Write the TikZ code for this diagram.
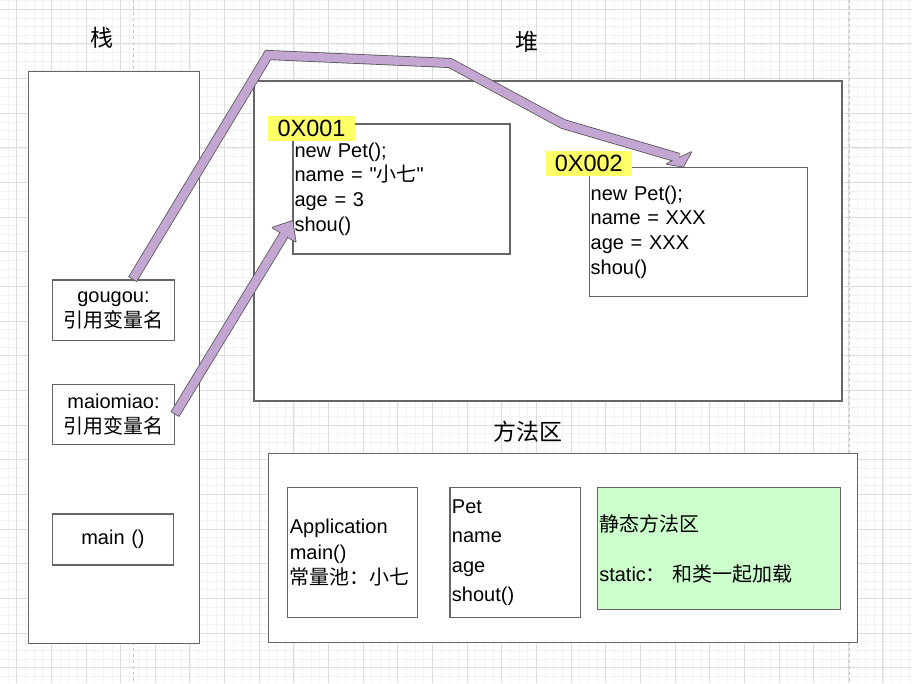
\documentclass[tikz,border=0pt]{standalone}
\usepackage{fontspec}
\setmainfont{Liberation Sans}
\newfontfamily\cjk{Noto Sans CJK SC}
\newfontfamily\plainsans{Liberation Sans}
\usetikzlibrary{calc}

\definecolor{boxline}{HTML}{666666}
\definecolor{gridminor}{HTML}{F2F2F2}
\definecolor{gridmajor}{HTML}{DEDEDE}
\definecolor{pagebreak}{HTML}{C4C4C4}
\definecolor{ptrfill}{HTML}{C3A6D2}
\definecolor{ptrline}{HTML}{555555}
\definecolor{addrfill}{HTML}{FFFF66}
\definecolor{staticfill}{HTML}{CCFFCC}

\newcommand\boxfont{\fontsize{20}{24.7}\selectfont}
\newcommand\headfont{\cjk\fontsize{23}{23}\selectfont}
\newcommand\dq{{\plainsans "}}

\tikzset{
  areabox/.style={draw=boxline, fill=white, line width=1.2pt, inner sep=0pt},
  membox/.style={draw=boxline, fill=white, line width=1.2pt, inner ysep=0pt,
    inner xsep=1.5pt, align=left, font=\boxfont},
  areatitle/.style={font=\headfont, inner sep=0pt},
  addr/.style={fill=addrfill, inner sep=0pt, minimum width=87pt,
    minimum height=25pt, font=\fontsize{23.5}{23.5}\selectfont},
  ptrouter/.style={draw=ptrline, line width=10pt, line join=miter},
  ptrinner/.style={draw=ptrfill, line width=8.4pt, line join=miter, shorten <=0.8pt},
}

\begin{document}
\begin{tikzpicture}[x=1pt, y=-1pt]
\useasboundingbox (0,0) rectangle (912,683);

% Grid
\foreach \i in {-2,...,103}
  \draw[gridminor, line width=0.8pt] ({16.7+\i*8.6625},0) -- ++(0,683);
\foreach \i in {-1,...,78}
  \draw[gridminor, line width=0.8pt] (0,{9.3+\i*8.6625}) -- ++(912,0);
\foreach \i in {0,...,26}
  \draw[gridmajor, line width=1pt] ({16.7+\i*34.65},0) -- ++(0,683);
\foreach \i in {0,...,19}
  \draw[gridmajor, line width=1pt] (0,{9.3+\i*34.65}) -- ++(912,0);

% Page breaks
\draw[pagebreak, dashed, line width=1pt] (133,0) -- (133,683);
\draw[pagebreak, dashed, line width=1pt] (849,0) -- (849,683);

% Memory areas
\node[areabox, minimum width=171pt, minimum height=571.6pt] (stack) at (113.8,357.5) {};
\node[areabox, minimum width=588pt, minimum height=320pt] (heap) at (548,241) {};
\node[areabox, minimum width=589.4pt, minimum height=189.4pt] (method) at (563,548) {};

% Titles
\node[areatitle] (stacktitle) at (102,38) {栈};
\node[areatitle] (heaptitle) at (527,42) {堆};
\node[areatitle] (methodtitle) at (528,432) {方法区};

% Stack entries
\node[membox, align=center, text width=118.6pt, minimum height=60.7pt] (gou) at (113.5,310.4)
  {gougou:\\{\cjk 引用变量名}};
\node[membox, align=center, text width=118.6pt, minimum height=60pt] (mia) at (113.5,414.3)
  {maiomiao:\\{\cjk 引用变量名}};
\node[membox, align=center, text width=118pt, minimum height=51pt] (mainbox) at (113,539.5)
  {main ()};

% Heap objects
\node[membox, text width=214pt, minimum height=130pt] (obja) at (401.5,189)
  {new Pet();\\name = \dq{\cjk 小七}\dq\\age = 3\\shou()};
\node[membox, text width=215pt, minimum height=129.4pt] (objb) at (698.2,232)
  {new Pet();\\name = XXX\\age = XXX\\shou()};

% Addresses
\node[addr] (addra) at (311.5,128) {0X001};
\node[addr, minimum width=85.7pt] (addrb) at (588.8,163.2) {0X002};

% Method area
\node[membox, inner xsep=2.5pt, text width=125pt, minimum height=130pt,
  font=\fontsize{20}{25.3}\selectfont] (app) at (352.3,552.7)
  {Application\\main()\\{\cjk 常量池：小七}};
\node[membox, inner xsep=2pt, text width=126.7pt, minimum height=130pt,
  font=\fontsize{20}{29.3}\selectfont] (pet) at (515.3,552.7)
  {Pet\\name\\age\\shout()};
\node[membox, fill=staticfill, inner xsep=2pt, text width=239.4pt, minimum height=121.6pt,
  font=\fontsize{20}{50}\selectfont] (static) at (719,548.5)
  {{\cjk 静态方法区}\\static{\cjk ： 和类一起加载}};

% Pointer coordinates
\coordinate (g0) at ($(gou.north)+(19,0)$);
\coordinate (k1) at (268,55);
\coordinate (k2) at (450,63);
\coordinate (k3) at (563,124);
\coordinate (tipb) at ($(objb.north)+(-15,0)$);
\coordinate (baseb) at (679,158);
\coordinate (bbl) at ($(baseb)!13.5pt!90:(tipb)$);
\coordinate (bbr) at ($(baseb)!13.5pt!-90:(tipb)$);
\coordinate (tipa) at ($(obja.west)+(0,32)$);
\coordinate (basea) at ($(tipa)!16pt!(mia.east)$);
\coordinate (bal) at ($(basea)!13.5pt!90:(tipa)$);
\coordinate (bar) at ($(basea)!13.5pt!-90:(tipa)$);

% Pointers, outline
\draw[ptrouter] (g0) -- (k1) -- (k2) -- (k3) -- (baseb);
\draw[ptrouter] (mia.east) -- (basea);
\filldraw[ptrline, line width=1.6pt, line join=round] (bbl) -- (tipb) -- (bbr) -- cycle;
\filldraw[ptrline, line width=1.6pt, line join=round] (bal) -- (tipa) -- (bar) -- cycle;

% Pointers, body
\draw[ptrinner] (g0) -- (k1) -- (k2) -- (k3) -- (baseb);
\draw[ptrinner] (mia.east) -- (basea);
\fill[ptrfill] (bbl) -- (tipb) -- (bbr) -- cycle;
\fill[ptrfill] (bal) -- (tipa) -- (bar) -- cycle;

\end{tikzpicture}
\end{document}
